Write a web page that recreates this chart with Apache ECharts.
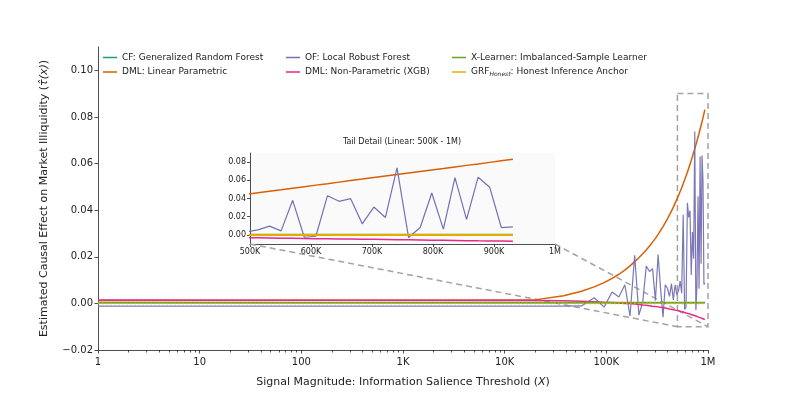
<!DOCTYPE html>
<html>
<head>
<meta charset="utf-8">
<script src="https://cdn.jsdelivr.net/npm/echarts@6/dist/echarts.min.js"></script>
<style>
  html, body { margin: 0; padding: 0; background: #fff; }
  #chart { width: 785px; height: 393px; }
</style>
</head>
<body>
<div id="chart"></div>
<script>
// signal magnitude grid
var xs = [1, 19000, 38000, 57000, 76000, 95000, 114000, 133000, 152000, 171000,
  190000, 209000, 228000, 247000, 266000, 285000, 304000, 323000, 342000, 361000,
  380000, 399000, 418000, 437000, 456000, 475000, 494000, 513000, 532000, 551000,
  570000, 589000, 608000, 627000, 646000, 665000, 684000, 703000, 722000, 741000,
  760000, 779000, 798000, 817000, 836000, 855000, 874000, 893000, 912000, 931000]

// flat estimators only need their two ends
var xEnds = [1, 931000]
var cfVals = [0.0003, 0.0003]
var xlVals = [0.0004, 0.0004]
var grfVals = [0.0, 0.0]

var linVals = [0.0012, 0.0014, 0.0033, 0.0052, 0.0071, 0.0089, 0.0107, 0.0125, 0.0143, 0.0161,
  0.0179, 0.0196, 0.0213, 0.0229, 0.0246, 0.0263, 0.0279, 0.0296, 0.0313, 0.0329,
  0.0346, 0.0363, 0.0380, 0.0396, 0.0413, 0.0430, 0.0446, 0.0463, 0.0480, 0.0496,
  0.0513, 0.0530, 0.0547, 0.0563, 0.0580, 0.0597, 0.0613, 0.0630, 0.0647, 0.0663,
  0.0680, 0.0697, 0.0714, 0.0730, 0.0747, 0.0764, 0.0780, 0.0797, 0.0814, 0.0831]

var ofVals = [-0.0012, -0.0012, -0.0012, -0.0011, 0.0024, -0.0016, 0.0049, 0.0027, 0.0080, -0.0054,
  0.0206, -0.0050, 0.0005, 0.0160, 0.0137, 0.0149, 0.0012, 0.0210, 0.0060, -0.0059,
  0.0080, 0.0065, 0.0030, 0.0085, 0.0015, 0.0080, 0.0035, 0.0055, 0.0096, 0.0044,
  0.0380, -0.0026, -0.0015, 0.0431, 0.0369, 0.0398, 0.0122, 0.0306, 0.0192, 0.0737,
  -0.0029, 0.0081, 0.0460, 0.0063, 0.0630, 0.0170, 0.0634, 0.0523, 0.0081, 0.0088]

var npVals = [0.0014, 0.0012, 0.0011, 0.0009, 0.0007, 0.0005, 0.0004, 0.0002, 0.0000, -0.0001,
  -0.0003, -0.0005, -0.0007, -0.0008, -0.0010, -0.0012, -0.0013, -0.0015, -0.0017, -0.0018,
  -0.0020, -0.0022, -0.0024, -0.0025, -0.0027, -0.0029, -0.0030, -0.0032, -0.0034, -0.0036,
  -0.0037, -0.0039, -0.0041, -0.0042, -0.0044, -0.0046, -0.0048, -0.0049, -0.0051, -0.0053,
  -0.0054, -0.0056, -0.0058, -0.0059, -0.0061, -0.0063, -0.0065, -0.0066, -0.0068, -0.0070]

var xTicks = [1, 10, 100, 1000, 10000, 100000, 1000000]
var xTickLabels = ['1', '10', '100', '1K', '10K', '100K', '1M']
var minorMult = [2, 3, 4, 5, 6, 7, 8, 9]
var yTicks = [-0.02, 0, 0.02, 0.04, 0.06, 0.08, 0.1]

// tail zoom window
var zoomX = [500000, 1000000]
var zoomY = [-0.01, 0.09]
var insetXTicks = [500000, 600000, 700000, 800000, 900000, 1000000]
var insetXLabels = ['500K', '600K', '700K', '800K', '900K', '1M']
var insetYTicks = [0, 0.02, 0.04, 0.06, 0.08]

var names = ['CF: Generalized Random Forest', 'DML: Linear Parametric', 'OF: Local Robust Forest',
  'DML: Non-Parametric (XGB)', 'X-Learner: Imbalanced-Sample Learner', 'GRF_Honest: Honest Inference Anchor']
var colors = ['#1b9e77', '#d95f02', '#7570b3', '#e7298a', '#66a61e', '#e6ab02']

var FONT = 'DejaVu Sans'
var AX = '#222'

function pairs (xa, ya) {
  return xa.map(function (x, i) { return [x, ya[i]] })
}
var minorTicks = []
xTicks.slice(0, -1).forEach(function (d) {
  minorMult.forEach(function (m) { minorTicks.push(d * m) })
})
function fmtY (v) {
  return v.toFixed(2).replace('-', '\u2212')
}

var chart = echarts.init(document.getElementById('chart'), null, {renderer: 'canvas'})

function line (idx, data, opts, inset) {
  return Object.assign({
    name: names[idx],
    type: 'line',
    data: data,
    xAxisIndex: inset ? 2 : 0,
    yAxisIndex: inset ? 1 : 0,
    symbol: 'none',
    showSymbol: false,
    animation: false,
    silent: true,
    color: colors[idx],
    lineStyle: {color: colors[idx], width: 1.5}
  }, opts || {})
}

var legendCommon = {
  orient: 'vertical',
  top: 53,
  padding: 0,
  icon: 'rect',
  itemWidth: 14,
  itemHeight: 1.5,
  itemGap: 5.5,
  selectedMode: false,
  textStyle: {
    fontFamily: FONT,
    fontSize: 9,
    color: AX,
    rich: {
      sub: {fontFamily: FONT, fontSize: 6, fontStyle: 'italic', color: AX, verticalAlign: 'bottom', padding: [4, 0, 0, 0]}
    }
  },
  formatter: function (n) {
    return n === names[5] ? 'GRF{sub|Honest}: Honest Inference Anchor' : n
  }
}

chart.setOption({
  backgroundColor: '#fff',
  animation: false,
  textStyle: {fontFamily: FONT},
  title: {
    text: 'Tail Detail (Linear: 500K - 1M)',
    left: 402,
    top: 138,
    textAlign: 'center',
    padding: 0,
    textStyle: {fontFamily: FONT, fontSize: 8, fontWeight: 'normal', color: AX}
  },
  legend: [
    Object.assign({left: 103, data: [names[0], names[1]]}, legendCommon),
    Object.assign({left: 286, data: [names[2], names[3]]}, legendCommon),
    Object.assign({left: 452, data: [names[4], names[5]]}, legendCommon)
  ],
  grid: [
    {left: 98, right: 77, top: 47, bottom: 43},
    {left: 250, top: 153, width: 305, height: 91, show: true, backgroundColor: '#fafafa', borderWidth: 0}
  ],
  xAxis: [
    {
      type: 'log', logBase: 10, min: 1, max: 1000000, gridIndex: 0, position: 'bottom',
      name: '{n|Signal Magnitude: Information Salience Threshold (}{i|X}{n|)}',
      nameLocation: 'middle', nameGap: 27,
      nameTextStyle: {rich: {
        n: {fontFamily: FONT, fontSize: 11, color: AX},
        i: {fontFamily: FONT, fontSize: 11, fontStyle: 'italic', color: AX}
      }},
      axisLine: {onZero: false, lineStyle: {color: AX, width: 0.8}},
      axisTick: {customValues: xTicks, length: 3.5, lineStyle: {color: AX, width: 0.8}},
      axisLabel: {customValues: xTicks, fontSize: 10, color: AX, margin: 7, fontFamily: FONT,
        formatter: function (v) { return xTickLabels[xTicks.indexOf(v)] }},
      splitLine: {show: false}
    },
    {
      type: 'log', logBase: 10, min: 1, max: 1000000, gridIndex: 0, position: 'bottom',
      axisLine: {show: false, onZero: false},
      axisTick: {show: true, customValues: minorTicks, length: 2.5, lineStyle: {color: AX, width: 0.8}},
      axisLabel: {show: false},
      splitLine: {show: false}
    },
    {
      type: 'value', min: zoomX[0], max: zoomX[1], interval: 100000, gridIndex: 1,
      axisLine: {onZero: false, lineStyle: {color: AX, width: 0.8}},
      axisTick: {customValues: insetXTicks, length: 3, lineStyle: {color: AX, width: 0.8}},
      axisLabel: {customValues: insetXTicks, fontSize: 8, color: AX, margin: 4, fontFamily: FONT,
        formatter: function (v) { return insetXLabels[insetXTicks.indexOf(v)] }},
      splitLine: {show: false}
    }
  ],
  yAxis: [
    {
      type: 'value', min: -0.02, max: 0.11, interval: 0.02, gridIndex: 0,
      name: '{n|Estimated Causal Effect on Market Illiquidity (}{i|\u03c4\u0302(x)}{n|)}',
      nameLocation: 'middle', nameGap: 48, nameRotate: 90,
      nameTextStyle: {rich: {
        n: {fontFamily: FONT, fontSize: 11, color: AX},
        i: {fontFamily: FONT, fontSize: 11, fontStyle: 'italic', color: AX}
      }},
      axisLine: {show: true, onZero: false, lineStyle: {color: AX, width: 0.8}},
      axisTick: {show: true, customValues: yTicks, length: 3.5, lineStyle: {color: AX, width: 0.8}},
      axisLabel: {customValues: yTicks, fontSize: 10, color: AX, margin: 5, fontFamily: FONT, formatter: fmtY},
      splitLine: {show: false}
    },
    {
      type: 'value', min: zoomY[0], max: zoomY[1], gridIndex: 1,
      axisLine: {show: true, onZero: false, lineStyle: {color: AX, width: 0.8}},
      axisTick: {show: true, customValues: insetYTicks, length: 3, lineStyle: {color: AX, width: 0.8}},
      axisLabel: {customValues: insetYTicks, fontSize: 8, color: AX, margin: 4, fontFamily: FONT, formatter: fmtY},
      splitLine: {show: false}
    }
  ],
  series: [
    line(0, pairs(xEnds, cfVals), {
      markArea: {
        silent: true,
        itemStyle: {color: 'rgba(0,0,0,0)', borderColor: '#a3a3a3', borderWidth: 1.5, borderType: [6, 4]},
        data: [[{coord: [zoomX[0], zoomY[1]]}, {coord: [zoomX[1], zoomY[0]]}]]
      }
    }),
    line(1, pairs(xs, linVals)),
    line(2, pairs(xs, ofVals), {lineStyle: {color: colors[2], width: 1.2, opacity: 0.95}}),
    line(3, pairs(xs, npVals)),
    line(4, pairs(xEnds, xlVals), {lineStyle: {color: colors[4], width: 1.6}}),
    line(5, pairs(xEnds, grfVals), {lineStyle: {color: colors[5], width: 1.6, type: [1.5, 2.5]}}),
    // inset copies
    line(0, pairs(xEnds, cfVals), null, true),
    line(1, pairs(xs, linVals), null, true),
    line(2, pairs(xs, ofVals), {lineStyle: {color: colors[2], width: 1.2}}, true),
    line(3, pairs(xs, npVals), null, true),
    line(4, pairs(xEnds, xlVals), null, true),
    line(5, pairs(xEnds, grfVals), {lineStyle: {color: colors[5], width: 2}}, true)
  ]
})

// dashed connectors from the inset's lower corners to the zoom box
var a1 = chart.convertToPixel({xAxisIndex: 2, yAxisIndex: 1}, [zoomX[0], zoomY[0]])
var a2 = chart.convertToPixel({xAxisIndex: 2, yAxisIndex: 1}, [zoomX[1], zoomY[0]])
var b1 = chart.convertToPixel({xAxisIndex: 0, yAxisIndex: 0}, [zoomX[0], zoomY[0]])
var b2 = chart.convertToPixel({xAxisIndex: 0, yAxisIndex: 0}, [zoomX[1], zoomY[0]])
var dash = {stroke: '#a3a3a3', lineWidth: 1.5, lineDash: [6, 4], fill: null}
chart.setOption({
  graphic: [
    {type: 'line', silent: true, z: 1, shape: {x1: a1[0], y1: a1[1], x2: b1[0], y2: b1[1]}, style: dash},
    {type: 'line', silent: true, z: 1, shape: {x1: a2[0], y1: a2[1], x2: b2[0], y2: b2[1]}, style: dash}
  ]
})
</script>
</body>
</html>
